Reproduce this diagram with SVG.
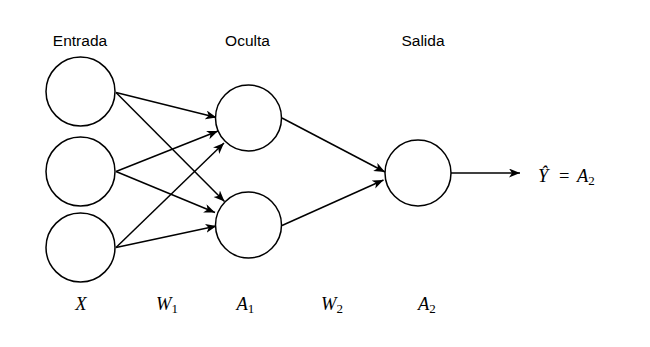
<svg xmlns="http://www.w3.org/2000/svg" width="650" height="347" viewBox="0 0 650 347">
<style>
.node{fill:#fff;stroke:#000;stroke-width:1.5}
.edge{stroke:#000;stroke-width:1.5;fill:none;marker-end:url(#arr)}
.lbl{font-family:"Liberation Sans",Arial,sans-serif;font-size:15.5px;fill:#000;text-anchor:middle}
.math{font-family:"Liberation Serif","Times New Roman",serif;font-size:18.5px;font-style:italic;fill:#000}
.sub{font-style:normal;font-size:13px}
</style>
<defs>
<marker id="arr" markerUnits="userSpaceOnUse" markerWidth="12" markerHeight="10" refX="11" refY="4.5" orient="auto">
<path d="M0,0 L11,4.5 L0,9 L3,4.5 z" fill="#000"/>
</marker>
</defs>
<rect width="650" height="347" fill="#fff"/>
<g id="connectors">
<line class="edge" x1="116" y1="92.5" x2="216.5" y2="117.5"/>
<line class="edge" x1="116" y1="92.5" x2="224.5" y2="201.5"/>
<line class="edge" x1="116" y1="171.5" x2="218" y2="131"/>
<line class="edge" x1="116" y1="171.5" x2="215" y2="212.5"/>
<line class="edge" x1="116" y1="247.5" x2="224" y2="143"/>
<line class="edge" x1="116" y1="247.5" x2="216.5" y2="226"/>
<line class="edge" x1="282" y1="118" x2="385" y2="172"/>
<line class="edge" x1="282" y1="225.5" x2="383.5" y2="180"/>
<line class="edge" x1="451" y1="173" x2="520" y2="173"/>
</g>
<g id="in1"><circle class="node" cx="80.5" cy="91.5" r="34.5"/></g>
<g id="in2"><circle class="node" cx="80.5" cy="171.5" r="34.5"/></g>
<g id="in3"><circle class="node" cx="80.5" cy="247.5" r="34.5"/></g>
<g id="h1"><circle class="node" cx="248.5" cy="118" r="33"/></g>
<g id="h2"><circle class="node" cx="248.5" cy="225" r="33"/></g>
<g id="out"><circle class="node" cx="418" cy="173" r="33"/></g>
<g id="labels">
<text class="lbl" x="80" y="46">Entrada</text>
<text class="lbl" x="247.5" y="46">Oculta</text>
<text class="lbl" x="423" y="46">Salida</text>
<text class="math" y="182"><tspan x="538">Ŷ</tspan><tspan x="559" font-style="normal">=</tspan><tspan x="577">A</tspan><tspan class="sub" dy="3">2</tspan></text>
<text class="math" x="81" y="310" text-anchor="middle">X</text>
<text class="math" x="156" y="310">W<tspan class="sub" dy="3">1</tspan></text>
<text class="math" x="236.5" y="310">A<tspan class="sub" dy="3">1</tspan></text>
<text class="math" x="321" y="310">W<tspan class="sub" dy="3">2</tspan></text>
<text class="math" x="418" y="310">A<tspan class="sub" dy="3">2</tspan></text>
</g>
</svg>
